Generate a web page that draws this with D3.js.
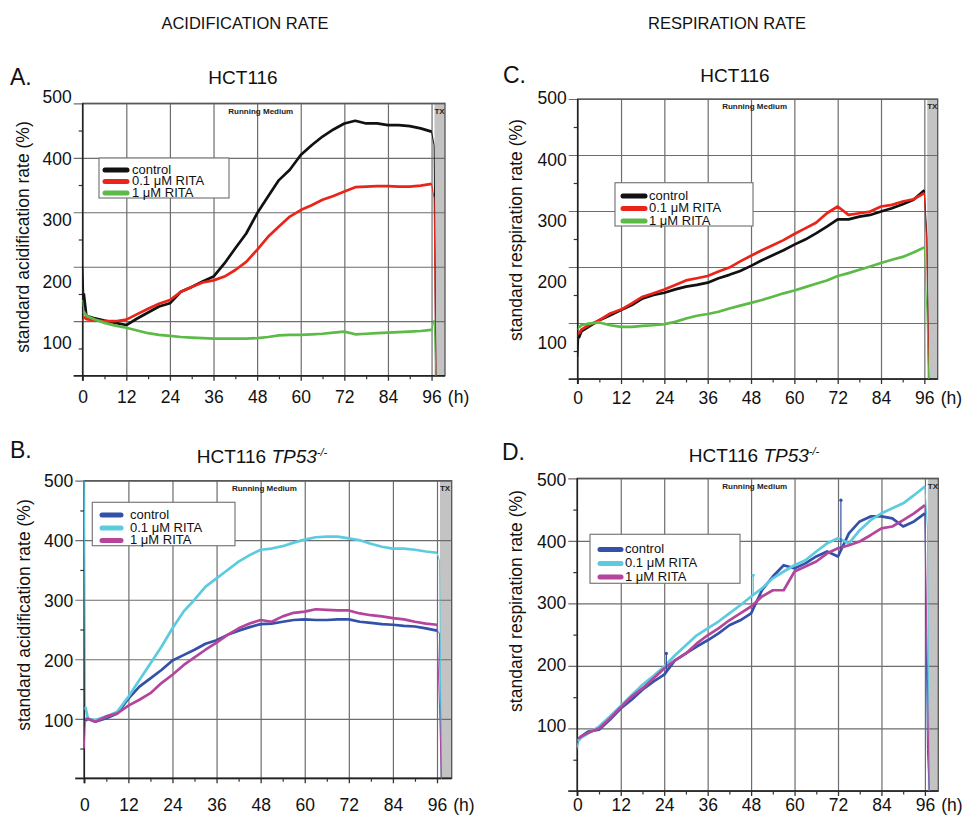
<!DOCTYPE html>
<html><head><meta charset="utf-8">
<script src="https://cdn.jsdelivr.net/npm/d3@7"></script>
<style>
body{margin:0;background:#fff}
svg{font-family:"Liberation Sans",Arial,Helvetica,sans-serif}
</style></head>
<body><svg id="chart" width="964" height="815"></svg>
<script>
// ---------------- DATA ----------------
const hours = [0,0.3,1,3,6,9,12,15,18,21,24,27,30,33,36,39,42,45,48,51,54,57,60,63,66,69,72,75,78,81,84,87,90,93,96,96.7,97.2];
const seriesNames = ["control","0.1 \u03bcM RITA","1 \u03bcM RITA"];
const xTicks = [0,12,24,36,48,60,72,84,96];
const xMinorTicks = [6,18,30,42,54,66,78,90];
const yTicks = [100,200,300,400,500];
const yMinorTicks = [50,150,250,350,450];

// A. HCT116 acidification
const acidHCT_control = [200,151,110,106,101,97,93,105,116,127,133,154,163,173,182,206,234,261,298,329,359,378,405,423,439,452,463,468,463,463,460,460,458,454,448,423,0];
const acidHCT_rita01  = [100,108,104,102,100,100,103,113,123,132,139,154,163,171,175,182,194,209,231,255,274,292,304,313,323,330,338,346,347,348,348,347,347,349,352,326,0];
const acidHCT_rita1   = [139,118,110,104,97,92,88,83,78,75,73,71,70,69,68,68,68,68,69,71,74,75,75,76,77,79,81,76,77,78,79,80,81,82,84,102,0];
// C. HCT116 respiration
const respHCT_control = [40,73,85,93,105,114,123,132,144,150,154,160,165,168,172,180,186,193,202,212,221,230,240,249,260,272,285,285,290,293,299,305,312,320,337,254,0];
const respHCT_rita01  = [76,80,88,96,105,117,124,135,147,153,160,168,176,180,184,192,199,210,220,230,239,248,259,269,279,296,308,293,296,299,308,311,317,321,332,236,0];
const respHCT_rita1   = [88,92,96,99,101,96,93,93,95,96,98,102,108,113,116,120,126,131,136,141,147,153,158,164,170,176,184,189,195,201,207,213,218,226,235,120,0];
// B. HCT116 TP53-/- acidification
const acidTP53_control = [95,97,100,95,101,109,134,154,168,182,198,207,216,226,232,241,248,254,259,260,263,266,267,266,266,267,267,263,261,259,258,256,255,252,248,244,0];
const acidTP53_rita01  = [500,120,100,98,104,112,137,165,193,221,252,280,300,322,336,350,364,375,384,386,390,396,401,405,406,406,403,400,394,389,386,386,384,381,379,365,0];
const acidTP53_rita1   = [50,100,100,95,104,109,122,132,143,160,174,190,203,216,228,241,252,260,266,263,272,278,280,284,283,282,282,277,274,272,269,267,263,260,258,115,0];
// D. HCT116 TP53-/- respiration
const respTP53_control = [66,82,87,95,98,114,132,146,162,175,186,209,220,231,241,252,265,273,284,321,343,361,356,364,375,383,375,412,431,439,439,436,423,431,444,66,0];
const respTP53_rita01  = [70,80,85,92,103,119,136,153,170,184,199,217,233,249,260,271,284,297,311,324,340,351,361,369,383,396,404,396,417,433,444,452,460,473,487,420,0];
const respTP53_rita1   = [80,84,87,93,100,116,134,151,164,180,196,209,220,236,249,260,273,284,295,311,321,321,351,359,367,380,388,393,399,409,420,423,433,444,457,180,0];
// isolated outlier spikes in D: [series index, hour, value]
const respTP53_spikes = [[0,24.6,220],[1,48.6,345],[0,72.8,465]];

const colorsHCT  = ["#111111","#ea2419","#5cba46"];
const colorsTP53 = ["#3451a9","#5ccbdf","#b3469c"];

// ---------------- LAYOUT ----------------
const panels = [
  {letter:"A.", title:["HCT116"], yTitle:"standard acidification rate (%)",
   series:[acidHCT_control,acidHCT_rita01,acidHCT_rita1], colors:colorsHCT,
   x0:82.7,x1:445,y0:103.3,y1:375.7,xmax:99.7, yLab100:343,yLab500:97, xLabY:397,
   letterPos:[10,77], titlePos:[243,77], yTitlePos:[23,237],
   legend:{x:99,y:158,w:130,h:40,rows:[169,180.5,192],sw:[105,127],tx:132}},
  {letter:"C.", title:["HCT116"], yTitle:"standard respiration rate (%)",
   series:[respHCT_control,respHCT_rita01,respHCT_rita1], colors:colorsHCT,
   x0:577.7,x1:937.7,y0:99,y1:379,xmax:99.7, yLab100:342.7,yLab500:98.3, xLabY:398,
   letterPos:[503,75], titlePos:[735,75], yTitlePos:[516,230],
   legend:{x:615,y:182.7,w:138,h:43.3,rows:[195,207.5,220],sw:[623,645],tx:649}},
  {letter:"B.", title:["HCT116 ","TP53","-/-"], yTitle:"standard acidification rate (%)",
   series:[acidTP53_control,acidTP53_rita01,acidTP53_rita1], colors:colorsTP53,
   x0:84.3,x1:451.7,y0:480.7,y1:778.3,xmax:100, yLab100:721,yLab500:480.5, xLabY:804.5,
   letterPos:[10,450], titlePos:[262,456], yTitlePos:[24,615],
   legend:{x:92.3,y:502.3,w:142.7,h:43.4,rows:[514,527,539.5],sw:[102,121],tx:130}},
  {letter:"D.", title:["HCT116 ","TP53","-/-"], yTitle:"standard respiration rate (%)",
   series:[respTP53_control,respTP53_rita01,respTP53_rita1], colors:colorsTP53, spikes:respTP53_spikes,
   x0:577.3,x1:938.3,y0:478.3,y1:791,xmax:99.7, yLab100:726,yLab500:480, xLabY:804.5,
   letterPos:[502,452], titlePos:[754,455], yTitlePos:[516,601],
   legend:{x:590,y:534.3,w:150,h:49,rows:[548.5,562.5,576],sw:[600,621],tx:625}}
];

const svg = d3.select("#chart");
svg.append("text").attr("x",245).attr("y",23).attr("dy","0.35em").attr("text-anchor","middle")
  .attr("font-size",16.5).attr("fill","#111").text("ACIDIFICATION RATE");
svg.append("text").attr("x",727).attr("y",23).attr("dy","0.35em").attr("text-anchor","middle")
  .attr("font-size",16.5).attr("fill","#111").text("RESPIRATION RATE");

const gridColor = "#6d6d6d";

panels.forEach((p,pi)=>{
  const g = svg.append("g");
  const x = d3.scaleLinear().domain([0,p.xmax]).range([p.x0,p.x1]);
  const y = d3.scaleLinear().domain([0,500]).range([p.y1,p.y0]);
  const yLab = d3.scaleLinear().domain([100,500]).range([p.yLab100,p.yLab500]);
  const W = p.x1-p.x0, H = p.y1-p.y0;

  // TX band
  g.append("rect").attr("x",x(96.8)).attr("y",p.y0).attr("width",p.x1-x(96.8)).attr("height",H)
    .attr("fill","#c3c3c3");

  // horizontal grid (extends left as major tick)
  const hg = g.append("g").attr("transform",`translate(${p.x0-9},0)`)
    .call(d3.axisRight(y).tickValues([0,100,200,300,400,500]).tickSize(W+9).tickFormat(""));
  hg.select(".domain").remove();
  hg.selectAll("line").attr("stroke",gridColor).attr("stroke-width",1.2);
  // vertical grid
  const vg = g.append("g").attr("transform",`translate(0,${p.y1})`)
    .call(d3.axisBottom(x).tickValues(xTicks.slice(1)).tickSize(-H).tickFormat(""));
  vg.select(".domain").remove();
  vg.selectAll("line").attr("stroke",gridColor).attr("stroke-width",1.2);
  // x major ticks below
  const xt = g.append("g").attr("transform",`translate(0,${p.y1})`)
    .call(d3.axisBottom(x).tickValues(xTicks).tickSize(5).tickFormat(""));
  xt.select(".domain").remove();
  xt.selectAll("line").attr("stroke","#333").attr("stroke-width",1.3);
  const xm = g.append("g").attr("transform",`translate(0,${p.y1})`)
    .call(d3.axisBottom(x).tickValues(xMinorTicks).tickSize(3.5).tickFormat(""));
  xm.select(".domain").remove();
  xm.selectAll("line").attr("stroke","#333").attr("stroke-width",1.2);
  // y minor ticks
  const ym = g.append("g").attr("transform",`translate(${p.x0},0)`)
    .call(d3.axisLeft(y).tickValues(yMinorTicks).tickSize(4).tickFormat(""));
  ym.select(".domain").remove();
  ym.selectAll("line").attr("stroke","#333").attr("stroke-width",1.2);

  // frame
  g.append("rect").attr("x",p.x0).attr("y",p.y0).attr("width",W).attr("height",H)
    .attr("fill","none").attr("stroke","#555").attr("stroke-width",1.3);
  g.append("line").attr("x1",p.x0).attr("x2",p.x0).attr("y1",p.y0).attr("y2",p.y1+5)
    .attr("stroke","#222").attr("stroke-width",1.6);
  g.append("line").attr("x1",p.x0-9).attr("x2",p.x1).attr("y1",p.y1).attr("y2",p.y1)
    .attr("stroke","#222").attr("stroke-width",1.6);

  // Running Medium / TX
  g.append("text").attr("x",x(49)).attr("y",p.y0+7.5).attr("dy","0.35em").attr("text-anchor","middle")
    .attr("font-size",8).attr("font-weight","bold").attr("fill","#222").text("Running Medium");
  g.append("text").attr("x",x(98.2)).attr("y",p.y0+7.5).attr("dy","0.35em").attr("text-anchor","middle")
    .attr("font-size",8).attr("font-weight","bold").attr("fill","#222").text("TX");

  // data lines
  const line = d3.line().x((d,i)=>x(hours[i])).y(d=>y(d));
  const lineCore = d3.line().defined((d,i)=>i>=1 && i<=34).x((d,i)=>x(hours[i])).y(d=>y(d));
  p.series.forEach((s,si)=>{
    g.append("path").datum(s).attr("d",line).attr("fill","none")
      .attr("stroke",p.colors[si]).attr("stroke-width",1);
  });
  p.series.forEach((s,si)=>{
    g.append("path").datum(s).attr("d",lineCore).attr("fill","none")
      .attr("stroke",p.colors[si]).attr("stroke-width",2.7).attr("stroke-linejoin","round");
  });
  if(p.spikes){
    p.spikes.forEach(([si,t,v])=>{
      const base = d3.scaleLinear().domain(hours).range(p.series[si])(t);
      g.append("line").attr("x1",x(t)).attr("x2",x(t)).attr("y1",y(base)).attr("y2",y(v))
        .attr("stroke",p.colors[si]).attr("stroke-width",1.2);
      g.append("circle").attr("cx",x(t)).attr("cy",y(v)).attr("r",1.6).attr("fill",p.colors[si]);
    });
  }

  // y tick labels
  const yl = g.append("g").attr("transform",`translate(${p.x0-11},0)`)
    .call(d3.axisLeft(yLab).tickValues(yTicks).tickSize(0).tickPadding(0));
  yl.select(".domain").remove();
  yl.selectAll("text").attr("font-size",17.5).attr("fill","#111")
    .attr("font-family",'"Liberation Sans",Arial,sans-serif');
  // x tick labels
  const xl = g.append("g").attr("transform",`translate(0,${p.xLabY})`)
    .call(d3.axisBottom(x).tickValues(xTicks).tickSize(0).tickPadding(0));
  xl.select(".domain").remove();
  xl.selectAll("text").attr("dy","0.35em").attr("font-size",17.5).attr("fill","#111")
    .attr("font-family",'"Liberation Sans",Arial,sans-serif');
  g.append("text").attr("x",x(96)+27).attr("y",p.xLabY).attr("dy","0.35em").attr("text-anchor","middle")
    .attr("font-size",17.5).attr("fill","#111").text("(h)");

  // y title
  g.append("text").attr("transform",`translate(${p.yTitlePos[0]},${p.yTitlePos[1]}) rotate(-90)`)
    .attr("dy","0.35em").attr("text-anchor","middle").attr("font-size",17.5).attr("fill","#111")
    .text(p.yTitle);

  // panel letter and title
  g.append("text").attr("x",p.letterPos[0]).attr("y",p.letterPos[1]).attr("dy","0.35em")
    .attr("font-size",23).attr("fill","#111").text(p.letter);
  const tt = g.append("text").attr("x",p.titlePos[0]).attr("y",p.titlePos[1]).attr("dy","0.35em")
    .attr("text-anchor","middle").attr("font-size",19).attr("fill","#111");
  tt.append("tspan").text(p.title[0]);
  if(p.title.length>1){
    tt.append("tspan").attr("font-style","italic").text(p.title[1]);
    tt.append("tspan").attr("font-size",11).attr("dy",-7).attr("font-style","italic").text(p.title[2]);
  }

  // legend
  const L = p.legend;
  g.append("rect").attr("x",L.x).attr("y",L.y).attr("width",L.w).attr("height",L.h)
    .attr("fill","#fff").attr("stroke","#7a7a7a").attr("stroke-width",1.2);
  seriesNames.forEach((n,si)=>{
    g.append("line").attr("x1",L.sw[0]).attr("x2",L.sw[1]).attr("y1",L.rows[si]+1).attr("y2",L.rows[si]+1)
      .attr("stroke",p.colors[si]).attr("stroke-width",5).attr("stroke-linecap","round");
    g.append("text").attr("x",L.tx).attr("y",L.rows[si]).attr("dy","0.35em")
      .attr("font-size",13).attr("fill","#111").text(n);
  });
});
</script>
</body></html>
